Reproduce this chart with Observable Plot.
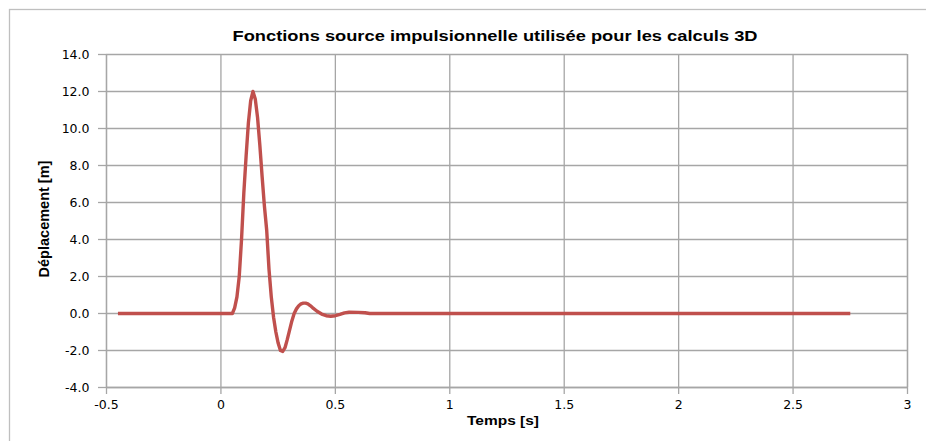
<!DOCTYPE html>
<html><head><meta charset="utf-8">
<script src="https://cdn.jsdelivr.net/npm/d3@7"></script>
<script src="https://cdn.jsdelivr.net/npm/@observablehq/plot@0.6"></script>
<style>body{margin:0;background:#fff}</style>
</head><body><div id="chart"></div>
<script>
const title = "Fonctions source impulsionnelle utilisée pour les calculs 3D";
const xLabel = "Temps [s]";
const yLabel = "Déplacement [m]";
const xTicks = [-0.5, 0, 0.5, 1, 1.5, 2, 2.5, 3];
const yTicks = [-4, -2, 0, 2, 4, 6, 8, 10, 12, 14];
const times = [-0.45, 0, 0.05, 0.06, 0.07, 0.08, 0.09, 0.10, 0.11, 0.12, 0.13, 0.14, 0.15, 0.16, 0.17, 0.18, 0.19, 0.20, 0.21, 0.22, 0.23, 0.24, 0.25, 0.26, 0.27, 0.28, 0.29, 0.30, 0.31, 0.32, 0.33, 0.34, 0.35, 0.36, 0.37, 0.38, 0.39, 0.40, 0.42, 0.44, 0.46, 0.48, 0.50, 0.52, 0.54, 0.56, 0.60, 0.63, 0.65, 2.75];
const displacement = [0, 0, 0, 0.3, 0.9, 2.0, 4.0, 6.5, 8.5, 10.3, 11.5, 12.0, 11.6, 10.6, 9.1, 7.4, 5.8, 4.5, 2.4, 0.9, -0.2, -1.0, -1.6, -2.0, -2.05, -1.85, -1.4, -0.9, -0.4, 0.0, 0.25, 0.42, 0.52, 0.56, 0.56, 0.52, 0.43, 0.32, 0.12, -0.03, -0.12, -0.15, -0.12, -0.05, 0.03, 0.07, 0.06, 0.04, 0, 0];
const data = times.map((t, i) => ({t, v: displacement[i]}));

const grid = "#a6a6a6";
const plot = Plot.plot({
  width: 926, height: 441,
  marginLeft: 106, marginRight: 19, marginTop: 54, marginBottom: 54,
  style: {fontFamily: "DejaVu Sans", fontSize: "12.5px", color: "#000", background: "#fff"},
  x: {domain: [-0.5, 3], ticks: xTicks, tickFormat: d => String(d), label: null},
  y: {domain: [-4, 14], ticks: yTicks, tickFormat: d => d.toFixed(1), label: null},
  marks: [
    Plot.gridX(xTicks, {stroke: grid, strokeOpacity: 1, strokeWidth: 1.3}),
    Plot.gridY(yTicks, {stroke: grid, strokeOpacity: 1, strokeWidth: 1.3}),
    Plot.axisX({ticks: xTicks, tickSize: 7, tickPadding: 6, stroke: grid, strokeWidth: 1.3, tickFormat: d => String(d), label: null, fontSize: 12.5}),
    Plot.axisY({ticks: yTicks, tickSize: 8, tickPadding: 9, stroke: grid, strokeWidth: 1.3, tickFormat: d => d.toFixed(1), label: null, fontSize: 12.5}),
    Plot.ruleX([-0.5, 3], {stroke: grid, strokeWidth: 1.3}),
    Plot.ruleY([-4], {stroke: grid, strokeWidth: 1.3}),
    Plot.line(data, {x: "t", y: "v", stroke: "#c0504d", strokeWidth: 3.4, strokeLinejoin: "round", strokeLinecap: "butt"}),
    Plot.text([title], {frameAnchor: "top", dy: -24, dx: -12, fontWeight: "bold", fontSize: 15, fontFamily: "Liberation Sans, sans-serif"}),
    Plot.text([xLabel], {frameAnchor: "bottom", dy: 37, dx: -4, fontWeight: "bold", fontSize: 13, fontFamily: "Liberation Sans, sans-serif"}),
    Plot.text([yLabel], {frameAnchor: "left", textAnchor: "middle", dx: -62, dy: -2, rotate: -90, fontWeight: "bold", fontSize: 14.5, fontFamily: "Liberation Sans, sans-serif"})
  ]
});
d3.select(plot).insert("rect", ":first-child")
  .attr("x", 9.5).attr("y", 9.5).attr("width", 940).attr("height", 460)
  .attr("fill", "none").attr("stroke", "#bfbfbf").attr("stroke-width", 1.3);
d3.select(plot).selectAll("text").each(function() {
  const s = this.textContent;
  if (s === title) d3.select(this).attr("textLength", 525).attr("lengthAdjust", "spacingAndGlyphs");
  if (s === xLabel) d3.select(this).attr("textLength", 72).attr("lengthAdjust", "spacingAndGlyphs");
});
document.getElementById("chart").append(plot);
</script>
</body></html>
